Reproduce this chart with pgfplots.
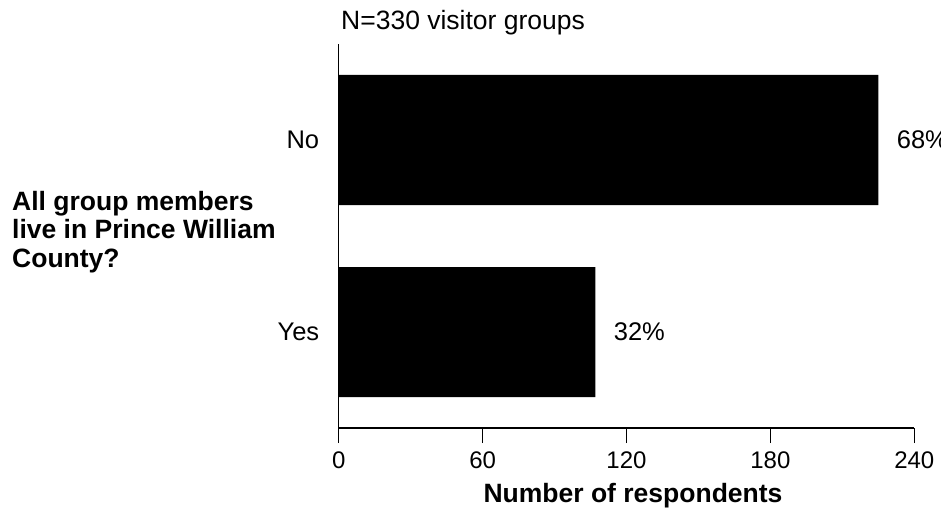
\documentclass[border=0pt]{standalone}
\usepackage{pgfplots}
\pgfplotsset{compat=1.18}
\usepackage{fontspec}
\setmainfont{Liberation Sans}
\begin{document}
\begin{tikzpicture}[x=1pt,y=1pt]
\begin{axis}[
  at={(338.7pt,89pt)}, anchor=south west,
  scale only axis, width=575.6pt, height=384pt,
  xbar, bar width=130pt,
  xmin=0, xmax=240, ymin=-0.5, ymax=1.5,
  axis lines*=left,
  axis line style={-, line width=1.5pt, black},
  xtick={0,60,120,180,240},
  ytick={0,1}, yticklabels={Yes,No},
  tick align=outside,
  major tick length=15pt,
  xtick style={black, line width=1.5pt},
  ytick style={draw=none},
  ticklabel style={font=\fontsize{24}{28}\selectfont},
  xticklabel style={yshift=-5pt},
  yticklabel style={font=\fontsize{25.5}{29}\selectfont, xshift=-1pt},
  /pgf/number format/assume math mode=true,
  clip=false,
  nodes near coords, point meta=explicit symbolic,
  nodes near coords style={font=\fontsize{25.5}{29}\selectfont, anchor=west, xshift=15pt},
]
\addplot[fill=black, draw=none] coordinates {(225,1) [68\%] (107,0) [32\%]};
\end{axis}
\node[anchor=base west, inner sep=0pt, font=\fontsize{26.5}{30}\selectfont] at (341,487) {N=330 visitor groups};
\node[anchor=base, inner sep=0pt, font=\bfseries\fontsize{26.5}{30}\selectfont] at (633,15) {Number of respondents};
\node[anchor=west, inner sep=0pt, align=left, font=\bfseries\fontsize{26.5}{28.7}\selectfont] at (12,285) {All group members\\live in Prince William\\County?};
\pgfresetboundingbox
\path[use as bounding box] (0,0) rectangle (941,517);
\end{tikzpicture}
\end{document}
